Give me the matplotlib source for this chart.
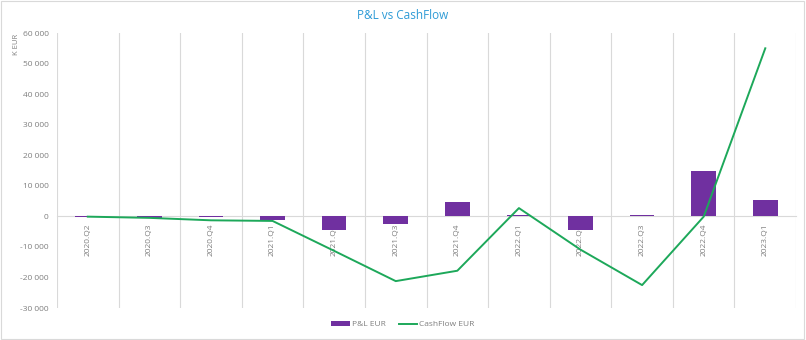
import matplotlib.pyplot as plt
from matplotlib.ticker import FuncFormatter, MultipleLocator
import numpy as np

quarters = ["2020.Q2", "2020.Q3", "2020.Q4", "2021.Q1", "2021.Q2", "2021.Q3",
            "2021.Q4", "2022.Q1", "2022.Q2", "2022.Q3", "2022.Q4", "2023.Q1"]
pnl = [-300, -400, -300, -1300, -4400, -2400, 4600, 600, -4600, 300, 14800, 5400]
cashflow = [-100, -500, -1300, -1500, -11300, -21200, -17800, 2700, -10900, -22500, -100, 55000]

plt.rcParams['font.family'] = ['Open Sans', 'DejaVu Sans']

grey = "#7F7F7F"
fig = plt.figure(figsize=(8.06, 3.4), dpi=100)
ax = fig.add_axes([0.0707, 0.0941, 0.917, 0.8088])

# spine position first, it resets the ticks
for s in ["top", "right", "left"]:
    ax.spines[s].set_visible(False)
ax.spines["bottom"].set_position(("data", 0))
ax.spines["bottom"].set_color("#D9D9D9")

x = np.arange(len(quarters))
bars = ax.bar(x, pnl, width=0.4, color="#7030A0", label="P&L EUR", zorder=3)
line, = ax.plot(x, cashflow, color="#1DA85A", lw=1.4, label="CashFlow EUR", zorder=4)

ax.set_xlim(-0.5, len(quarters) - 0.5)
ax.set_ylim(-30000, 60000)
ax.yaxis.set_major_locator(MultipleLocator(10000))
ax.yaxis.set_major_formatter(FuncFormatter(lambda v, p: f"{int(v):,}".replace(",", " ")))

ax.set_xticks(x)
ax.set_xticklabels(quarters, rotation=90, color=grey, fontsize=6)
ax.set_xticks(np.arange(-0.5, len(quarters)), minor=True)
ax.grid(axis="x", which="minor", color="#D9D9D9", lw=0.8, zorder=0)
ax.tick_params(axis="x", which="both", length=0, pad=5)
ax.tick_params(axis="y", length=0, labelsize=6, labelcolor=grey, pad=6)

fig.text(0.5, 0.955, "P&L vs CashFlow", ha="center", va="center", color="#2E9BD6", fontsize=8.5)
fig.text(0.021, 0.87, "K EUR", rotation=90, ha="center", va="center", color=grey, fontsize=5.5)

fig.legend([bars, line], ["P&L EUR", "CashFlow EUR"], loc="center",
           bbox_to_anchor=(0.5, 0.045), ncol=2, frameon=False,
           fontsize=6, labelcolor=grey, handlelength=2.2, handleheight=0.6,
           columnspacing=1.5, handletextpad=0.3)

fig.patches.append(plt.Rectangle((0.001, 0.003), 0.997, 0.994, transform=fig.transFigure,
                                 fill=False, edgecolor="#D9D9D9", lw=0.8))

fig.savefig("out.png", dpi=100)
